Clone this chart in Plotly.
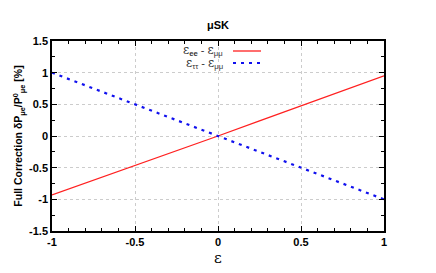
import plotly.graph_objects as go

eps = [-1.0, -0.75, -0.5, -0.25, 0.0, 0.25, 0.5, 0.75, 1.0]
ee_mumu = [-0.93, -0.70, -0.47, -0.235, 0.0, 0.24, 0.48, 0.715, 0.95]
tautau_mumu = [1.0, 0.75, 0.5, 0.25, 0.0, -0.25, -0.5, -0.75, -1.0]

x_ticks = [-1, -0.5, 0, 0.5, 1]
y_ticks = [-1.5, -1, -0.5, 0, 0.5, 1, 1.5]

fnt = "Liberation Sans, Arial, sans-serif"
sym = "DejaVu Serif, Liberation Serif, serif"

fig = go.Figure()
fig.add_trace(go.Scatter(x=eps, y=ee_mumu, mode="lines", showlegend=False,
                         line=dict(color="#ff2020", width=1.3)))
fig.add_trace(go.Scatter(x=eps, y=tautau_mumu, mode="lines", showlegend=False,
                         line=dict(color="#1010ee", width=2.2, dash="3px,5px")))

W, H = 436, 273
L, R, T, B = 52, 52, 41, 42
pw, ph = W - L - R, H - T - B

def px(xp):
    return (xp - L) / pw

def py(yp):
    return 1 - (yp - T) / ph

E = "<span style='font-family:DejaVu Serif;font-size:12px'>ε</span>"
legend_items = [
    (E + "<sub><b>ee</b></sub> - " + E + "<sub>μμ</sub>", 51, dict(color="#ff2020", width=1.3)),
    (E + "<sub>ττ</sub> - " + E + "<sub>μμ</sub>", 63, dict(color="#1010ee", width=2.2, dash="3px,5px")),
]
for txt, yp, ln in legend_items:
    fig.add_annotation(x=px(225), y=py(yp), xref="paper", yref="paper", text=txt,
                       showarrow=False, xanchor="right", yanchor="middle",
                       font=dict(family=fnt, size=11, color="#333333"))
    fig.add_shape(type="line", xref="paper", yref="paper", x0=px(233), x1=px(261),
                  y0=py(yp), y1=py(yp), line=ln)

fig.update_layout(
    width=W, height=H,
    margin=dict(l=L, r=R, t=T, b=B, autoexpand=False),
    paper_bgcolor="white", plot_bgcolor="white",
    title=dict(text="<b>μSK</b>", x=0.5, xref="paper", y=1 - 25 / H, yanchor="middle",
               font=dict(family=fnt, size=11, color="black")),
    xaxis=dict(range=[-1, 1], tickvals=x_ticks, ticktext=["<b>%g</b>" % v for v in x_ticks],
               ticks="inside", ticklen=5, tickcolor="black", mirror="allticks",
               showline=True, linecolor="black", linewidth=1.5, automargin=False,
               showgrid=True, gridcolor="#cccccc", griddash="dot", gridwidth=1,
               zeroline=False, tickfont=dict(family=fnt, size=11, color="black"),
               minor=dict(dtick=0.1, ticks="inside", ticklen=3, tickcolor="black", showgrid=False),
               title=dict(text="ε", font=dict(family=sym, size=15, color="black"), standoff=6)),
    yaxis=dict(range=[-1.5, 1.5], tickvals=y_ticks, ticktext=["<b>%g</b>" % v for v in y_ticks],
               ticks="inside", ticklen=5, tickcolor="black", mirror="allticks",
               showline=True, linecolor="black", linewidth=1.5, automargin=False,
               showgrid=True, gridcolor="#cccccc", griddash="dot", gridwidth=1,
               zeroline=False, tickfont=dict(family=fnt, size=11, color="black"),
               minor=dict(dtick=0.25, ticks="inside", ticklen=3, tickcolor="black", showgrid=False),
               title=dict(text="<b>Full Correction δP<sub>μe</sub>/P<sup>0</sup><sub>μe</sub> [%]</b>",
                          font=dict(family=fnt, size=10.5, color="black"), standoff=4)),
)

fig.write_html("out.html", config={"displayModeBar": False},
               post_script="document.body.style.margin='0';document.body.style.padding='0';")
